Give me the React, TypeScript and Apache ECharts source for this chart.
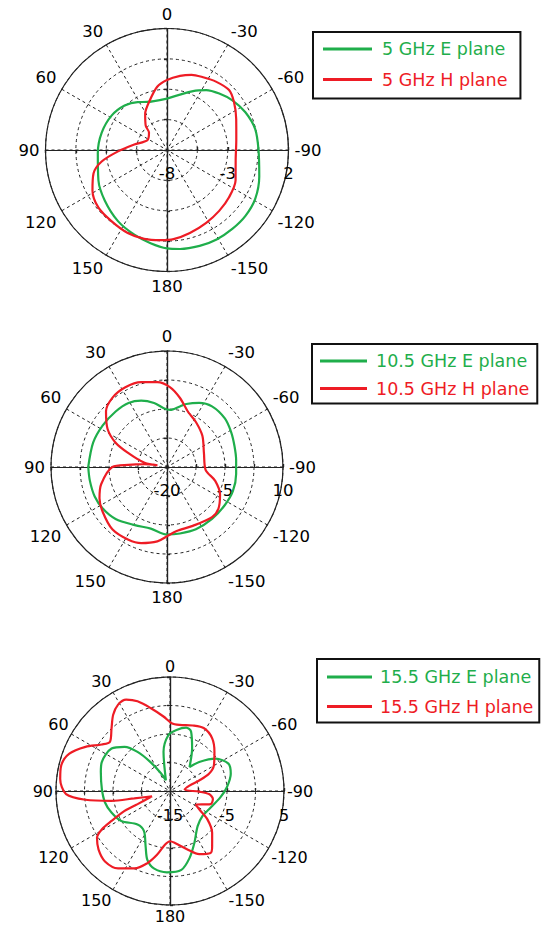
import React, { useEffect, useRef } from 'react';
import * as echarts from 'echarts';

const GREEN = '#1fae4b';
const RED = '#ee1c25';
const FONT = 'DejaVu Sans';

// Angle tick labels: 0 at top, positive counter-clockwise
const angleTicks = [0, 30, 60, 90, 120, 150, 180, -150, -120, -90, -60, -30];

// ---------- 5 GHz ----------
const e5Names = ['5 GHz E plane', '5 GHz H plane'];
const e5Angles = [0, -23.9, -33.2, -42.8, -52.8, -64.3, -76.7, -89.8, -106, -119, -130, -140.4, -151, -161.2, -172.5, 180, 170, 158.9, 145.4, 129.2, 113.8, 92.5, 75.1, 58.2, 43.6, 31.5, 22.2];
const e5Db = [-3.77, -2.7, -2.11, -1.67, -1.24, -0.84, -0.54, -0.47, -0.1, 0.3, 0.43, 0.43, 0.42, 0.34, 0.22, 0.1, -0.21, -0.53, -0.89, -1.4, -1.83, -2.3, -2.44, -2.63, -2.94, -3.37, -3.73];
const h5Angles = [20.5, 8.8, 0, -10, -18.1, -26.3, -35.6, -46, -54.4, -65.9, -81.3, -98.2, -113.8, -127.3, -139.4, -151.7, -164.6, -175.8, 175.8, 165.6, 154.7, 142, 129.9, 118.5, 107.7, 100, 91.6, 80.5, 63.3, 46, 41.3, 31.2];
const h5Db = [-3.78, -2.73, -2.23, -1.8, -1.49, -1.32, -1.08, -0.9, -1.22, -1.76, -2.23, -2.29, -1.83, -1.58, -1.4, -1.19, -0.91, -0.64, -0.56, -0.45, -0.44, -0.57, -0.63, -1.02, -1.65, -2.54, -3.97, -5.27, -6.2, -5.94, -5.35, -4.53];

// ---------- 10.5 GHz ----------
const e10Names = ['10.5 GHz E plane', '10.5 GHz H plane'];
const e10Angles = [90, 71.8, 57.1, 42.8, 31, 21.2, 11.4, 3.2, -3.2, -12, -17, -26.6, -36.6, -50, -61.6, -72.9, -84.3, -95.7, -110.2, -123.3, -139.1, -155.1, -169, 180, 165.3, 151, 135.3, 122.9, 112.2, 100.2];
const e10Db = [0.37, 0.11, -0.21, -0.45, -0.68, -1.57, -3.11, -4.77, -5.2, -3.98, -2.96, -1.46, -0.48, -0.47, -1.12, -1.73, -2.03, -2.03, -1.85, -2.09, -2.22, -2.24, -2.49, -2.54, -3.53, -2.82, -1.1, -0.21, 0.19, 0.26];
const h10Angles = [80, 79.5, 70.3, 64.7, 57.4, 47.7, 38.3, 27.6, 16.9, 6.5, -2.3, -10.5, -20.6, -32.7, -48.6, -69.5, -94.1, -106, -117.6, -128.9, -138.1, -156.4, -171.4, 180, 172.6, 161.3, 152.1, 138.7, 125, 114.8, 104.7, 90, 86.8, 83];
const h10Db = [-17.5, -14.1, -9.4, -5.3, -1.76, 1.33, 2.8, 3.26, 2.93, 2.08, 0.61, -1.79, -4.67, -6.17, -7.8, -9.8, -10, -7.03, -4.52, -2.9, -2.56, -3.38, -3.26, -2.09, -0.59, 0.79, 1.3, 1.42, 0.28, -0.77, -2.39, -5.87, -10, -14.1];

// ---------- 15.5 GHz ----------
const e15Names = ['15.5 GHz E plane', '15.5 GHz H plane'];
const e15Angles = [21, 9.4, 1.6, -6.1, -14.3, -19.5, -27.5, -39.2, -45.2, -54.6, -64.9, -74.2, -86.2, -97.2, -115, -127.5, -141.8, -154.9, -163.8, -171.8, 177.8, 168.2, 161.8, 156.2, 147, 135.8, 121.6, 110.2, 100, 88.3, 74.7, 67, 54, 45.8, 39.7, 34, 27];
const e15Db = [-13, -8.04, -5.18, -4.22, -3.52, -3.94, -6.6, -9.58, -7.78, -5.2, -3.68, -3.92, -5, -6.1, -7.45, -7.8, -7.16, -4.93, -2.74, -1.02, -0.73, -1.14, -2.28, -4.4, -6.62, -6.82, -4.96, -4.06, -3.42, -3.04, -2.42, -2, -2.32, -3.88, -6.08, -8.88, -11.5];
const h15Angles = [106.7, 101.7, 99.5, 95.9, 91.7, 83.7, 76.7, 69.6, 62.4, 55.7, 50.6, 43, 36.7, 31, 25.6, 19.9, 13.2, 5, -1.4, -8.4, -19.1, -28.5, -38.7, -48.7, -59.7, -66.2, -70.2, -74.6, -84.6, -91.3, -94.5, -100.7, -107.9, -117.9, -122, -127.2, -134.8, -142.7, -146.8, -155.2, -163, -174.6, 180, 174.8, 168.5, 162.5, 155.2, 146.1, 137.3, 129.4, 122.7, 119.4, 117.1, 113.7, 112];
const h15Db = [-11.72, -8.6, -4.6, -0.1, 3.24, 4.38, 4.6, 3.84, 1.72, -0.52, -1.38, 0.04, 1.68, 2.68, 2.78, 1.74, -0.04, -1.88, -3.1, -3.28, -2.84, -2.48, -3.16, -4.62, -6.08, -7.52, -9.56, -11.46, -12.42, -9.88, -8.14, -7.34, -7.52, -9.84, -8.96, -6.76, -4.58, -2.8, -2, -2.8, -4.24, -5.84, -6.18, -5.56, -3.58, -1.72, -0.06, 1.34, 1.82, 1.22, 0.22, -1.26, -3.48, -6.3, -8.86];

// radial scale of each plot (dB)
const radialMin = [-8, -20, -15];
const radialMax = [2, 10, 5];
const radialStep = [2.5, 7.5, 5];

type Layout = {
  center: [number, number];
  radius: number;
  labelMargin: number;
  fontSize: number;
  legend: { left: number; top: number; padding: number[]; itemWidth: number; itemGap: number; textPad: number };
};

const layouts: Layout[] = [
  { center: [167, 150], radius: 121.5, labelMargin: 6, fontSize: 16.5, legend: { left: 313, top: 32, padding: [8, 13, 10, 10], itemWidth: 49, itemGap: 12.5, textPad: 5 } },
  { center: [167, 467], radius: 116, labelMargin: 6, fontSize: 16.5, legend: { left: 312, top: 344, padding: [8, 8, 6, 8], itemWidth: 47, itemGap: 9.5, textPad: 4 } },
  { center: [170, 791], radius: 114, labelMargin: 3, fontSize: 16, legend: { left: 317, top: 659, padding: [9, 6, 7, 10], itemWidth: 45, itemGap: 11.5, textPad: 3 } },
];

const curves = [
  { names: e5Names, e: [e5Angles, e5Db], h: [h5Angles, h5Db] },
  { names: e10Names, e: [e10Angles, e10Db], h: [h10Angles, h10Db] },
  { names: e15Names, e: [e15Angles, e15Db], h: [h15Angles, h15Db] },
];

function buildOption() {
  const polar: any[] = [];
  const angleAxis: any[] = [];
  const radiusAxis: any[] = [];
  const series: any[] = [];
  const legend: any[] = [];
  const axisColor = '#222';

  layouts.forEach((lay, pi) => {
    const rMin = radialMin[pi];
    const span = radialMax[pi] - rMin;
    const step = radialStep[pi];
    const mainIdx = polar.length;
    polar.push({ center: lay.center, radius: lay.radius });
    angleAxis.push({
      polarIndex: mainIdx,
      type: 'value',
      min: 0,
      max: 360,
      interval: 30,
      startAngle: 90,
      clockwise: false,
      z: 1,
      axisLine: { show: true, lineStyle: { color: axisColor, width: 1.2 } },
      axisTick: { show: false },
      axisLabel: {
        show: true,
        margin: lay.labelMargin,
        fontSize: lay.fontSize,
        fontFamily: FONT,
        color: '#000',
        formatter: (v: number) => {
          if (v >= 360) return '';
          const lab = v > 180 ? v - 360 : v;
          return angleTicks.includes(lab) ? String(lab) : '';
        },
      },
      splitLine: { show: true, lineStyle: { type: [3, 3], color: axisColor, width: 1 } },
    });
    radiusAxis.push({
      polarIndex: mainIdx,
      type: 'value',
      min: 0,
      max: span,
      interval: step,
      z: 1,
      axisLine: { show: false },
      axisTick: { show: false },
      axisLabel: { show: false },
      splitLine: { show: true, lineStyle: { type: [3, 3], color: axisColor, width: 1 } },
    });

    [0, 90, 180, 270].forEach((dir) => {
      [false, true].forEach((inside) => {
        const idx = polar.length;
        polar.push({ center: lay.center, radius: lay.radius });
        angleAxis.push({ polarIndex: idx, type: 'value', min: 0, max: 360, startAngle: dir, show: false });
        const showLabels = dir === 0 && !inside;
        radiusAxis.push({
          polarIndex: idx,
          type: 'value',
          min: 0,
          max: span,
          interval: step,
          z: 2,
          axisLine: { show: true, lineStyle: { color: axisColor, width: 1.2 } },
          axisTick: { show: true, inside, length: 3, lineStyle: { color: axisColor, width: 1.2 } },
          axisLabel: showLabels
            ? {
                show: true,
                margin: -32,
                fontSize: lay.fontSize,
                fontFamily: FONT,
                color: '#000',
                formatter: (v: number) => {
                  const k = v / (2 * step);
                  return Math.abs(k - Math.round(k)) < 1e-6 ? String(Math.round((v + rMin) * 10) / 10) : '';
                },
              }
            : { show: false },
          splitLine: { show: false },
        });
      });
    });

    const c = curves[pi];
    const mk = (angs: number[], dbs: number[]) => {
      const pts = angs.map((a, i) => [dbs[i] - rMin, a < 0 ? a + 360 : a]);
      pts.push(pts[0]);
      return pts;
    };
    series.push({
      type: 'line',
      name: c.names[0],
      coordinateSystem: 'polar',
      polarIndex: mainIdx,
      data: mk(c.e[0], c.e[1]),
      symbol: 'none',
      showSymbol: false,
      smooth: 0.3,
      silent: true,
      z: 5,
      lineStyle: { color: GREEN, width: 2.2 },
      itemStyle: { color: GREEN },
    });
    series.push({
      type: 'line',
      name: c.names[1],
      coordinateSystem: 'polar',
      polarIndex: mainIdx,
      data: mk(c.h[0], c.h[1]),
      symbol: 'none',
      showSymbol: false,
      smooth: 0.3,
      silent: true,
      z: 6,
      lineStyle: { color: RED, width: 2.2 },
      itemStyle: { color: RED },
    });

    const lg = lay.legend;
    legend.push({
      data: [
        { name: c.names[0], textStyle: { color: GREEN } },
        { name: c.names[1], textStyle: { color: RED } },
      ],
      orient: 'vertical',
      left: lg.left,
      top: lg.top,
      padding: lg.padding,
      itemWidth: lg.itemWidth,
      itemHeight: 3,
      itemGap: lg.itemGap,
      icon: 'rect',
      borderColor: '#111',
      borderWidth: 2,
      selectedMode: false,
      textStyle: { fontSize: 17.5, fontFamily: FONT, padding: [0, 0, 0, lg.textPad] },
    });
  });

  return {
    animation: false,
    backgroundColor: '#fff',
    textStyle: { fontFamily: FONT },
    polar,
    angleAxis,
    radiusAxis,
    legend,
    series,
  };
}

export default function App() {
  const ref = useRef<HTMLDivElement>(null);
  useEffect(() => {
    if (!ref.current) return;
    const chart = echarts.init(ref.current, undefined, { renderer: 'svg' });
    chart.setOption(buildOption() as any);
    return () => chart.dispose();
  }, []);
  return <div ref={ref} style={{ position: 'absolute', left: 0, top: 0, width: 542, height: 929 }} />;
}
